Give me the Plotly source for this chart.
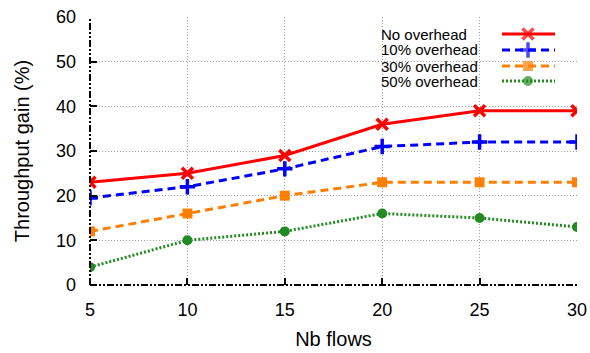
import plotly.graph_objects as go

flows = [5, 10, 15, 20, 25, 30]
no_overhead = [23, 25, 29, 36, 39, 39]
overhead_10 = [19.5, 22, 26, 31, 32, 32]
overhead_30 = [12, 16, 20, 23, 23, 23]
overhead_50 = [4, 10, 12, 16, 15, 13]
series_names = ["No overhead", "10% overhead", "30% overhead", "50% overhead"]
x_ticks = [5, 10, 15, 20, 25, 30]
y_ticks = [0, 10, 20, 30, 40, 50, 60]

FONT = "Liberation Sans, Arial, sans-serif"
styles = [
    dict(color="#ff0000", dash="solid", symbol="x-thin", msize=11, mline=3.5),
    dict(color="#0000ff", dash="8px,5px", symbol="cross-thin", msize=11, mline=3.5),
    dict(color="#ff8000", dash="8px,5px", symbol="square", msize=10, mline=0),
    dict(color="#228b22", dash="2px,2px", symbol="circle", msize=10, mline=0),
]
values = [no_overhead, overhead_10, overhead_30, overhead_50]

L, R, T, B = 90, 577, 17, 285
W, H = 590, 353

def px(x):
    return (x - L) / (R - L)

def py(y):
    return (B - y) / (B - T)

fig = go.Figure()
for name, vals, st in zip(series_names, values, styles):
    fig.add_trace(go.Scatter(
        x=flows, y=vals, name=name, mode="lines+markers", showlegend=False,
        line=dict(color=st["color"], width=3, dash=st["dash"]),
        marker=dict(symbol=st["symbol"], size=st["msize"], color=st["color"],
                    line=dict(color=st["color"], width=st["mline"])),
    ))

# custom legend (text left, sample right)
row_y = [34, 50, 66, 81]
for name, st, yy in zip(series_names, styles, row_y):
    fig.add_trace(go.Scatter(
        x=[px(502), px(528), px(555)], y=[py(yy)] * 3, xaxis="x2", yaxis="y2",
        mode="lines+markers", showlegend=False, hoverinfo="skip",
        line=dict(color=st["color"], width=3, dash=st["dash"]),
        marker=dict(symbol=st["symbol"], size=[0, st["msize"], 0], color=st["color"],
                    line=dict(color=st["color"], width=st["mline"])),
    ))
    fig.add_annotation(x=px(379), y=py(yy), xref="paper", yref="paper", text=name,
                       showarrow=False, xanchor="left", yanchor="middle",
                       font=dict(family=FONT, size=15, color="#000000"))

fig.add_shape(type="rect", xref="paper", yref="paper", x0=px(376), x1=px(567),
              y0=py(91), y1=py(25), fillcolor="white", line=dict(width=0), layer="between")

# dash-dot-dot axes (left and bottom)
axis_dash = "7px,2px,2px,2px,2px,2px"
fig.add_shape(type="line", xref="paper", yref="paper", x0=0, x1=1, y0=0, y1=0,
              line=dict(color="black", width=2, dash=axis_dash))
fig.add_shape(type="line", xref="paper", yref="paper", x0=0, x1=0, y0=0, y1=1,
              line=dict(color="black", width=2, dash=axis_dash))

fig.update_layout(
    width=W, height=H,
    margin=dict(l=L, r=W - R, t=T, b=H - B, autoexpand=False),
    paper_bgcolor="white", plot_bgcolor="white",
    font=dict(family=FONT, size=18, color="#000000"),
    xaxis=dict(range=[5, 30], tickvals=x_ticks, ticks="inside", ticklen=7, tickwidth=2,
               tickcolor="black", showgrid=True, gridcolor="#a0a0a0", griddash="1px,2px",
               gridwidth=1, zeroline=False, showline=False, ticklabelstandoff=12,
               title=dict(text="Nb flows", standoff=12, font=dict(family=FONT, size=20)),
               tickfont=dict(size=18)),
    yaxis=dict(range=[0, 60], tickvals=y_ticks, ticks="inside", ticklen=7, tickwidth=2,
               tickcolor="black", showgrid=True, gridcolor="#a0a0a0", griddash="1px,2px",
               gridwidth=1, zeroline=False, showline=False, ticklabelstandoff=13,
               title=dict(text="Throughput gain (%)", standoff=20, font=dict(family=FONT, size=20)),
               tickfont=dict(size=18)),
    xaxis2=dict(range=[0, 1], overlaying="x", visible=False, fixedrange=True),
    yaxis2=dict(range=[0, 1], overlaying="y", visible=False, fixedrange=True),
)

fig.write_html("out.html", config={"displayModeBar": False},
               post_script="document.body.style.margin='0';")
